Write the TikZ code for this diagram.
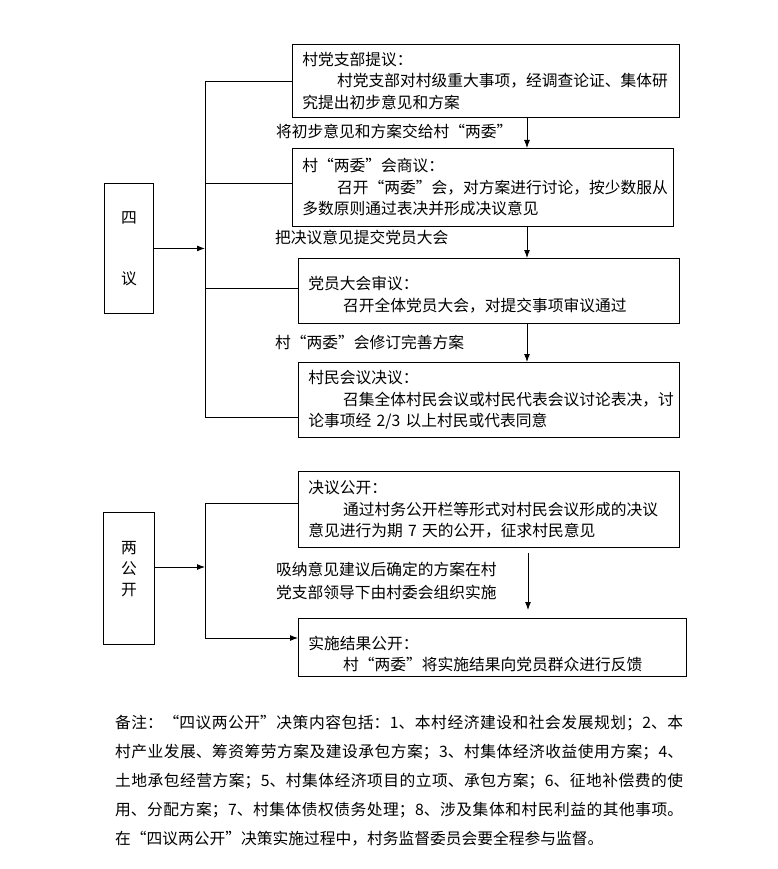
\documentclass[tikz,border=0pt]{standalone}
\usepackage{fontspec}
\setmainfont{Noto Sans CJK SC}
\usetikzlibrary{arrows.meta}

\tikzset{
  stepbox/.style 2 args={draw, line width=0.9pt, anchor=north west, inner xsep=10pt, inner ysep=0pt,
    align=left, text width=#1, minimum height=#2, font=\fontsize{15.75}{21.5}\selectfont},
  sidebox/.style 2 args={draw, line width=0.9pt, anchor=north west, inner sep=0pt,
    align=center, minimum width=#1, minimum height=#2, font=\fontsize{15.75}{21}\selectfont},
  steplabel/.style={anchor=west, inner sep=0pt, align=left, font=\fontsize{15.75}{23}\selectfont},
  wire/.style={line width=0.9pt},
}

\begin{document}
\begin{tikzpicture}[x=1pt, y=-1pt, >={Latex[length=8pt,width=6pt]}]
        \useasboundingbox (0,0) rectangle (777,869);

        % four discussions
        \node[sidebox={49pt}{130pt}] (siyi) at (104,183) {四\\[40pt]议};

        \node[stepbox={367pt}{73pt}] (b1) at (292,44) {村党支部提议：\\\hspace*{2.2em}村党支部对村级重大事项，经调查论证、集体研\\究提出初步意见和方案};
        \node[stepbox={361pt}{78pt}] (b2) at (292,148) {村“两委”会商议：\\\hspace*{2.2em}召开“两委”会，对方案进行讨论，按少数服从\\多数原则通过表决并形成决议意见};
        \node[stepbox={361pt}{65pt}, text depth=16pt] (b3) at (298,258) {党员大会审议：\\\hspace*{2.2em}召开全体党员大会，对提交事项审议通过};
        \node[stepbox={361pt}{75pt}] (b4) at (298,362) {村民会议决议：\\\hspace*{2.2em}召集全体村民会议或村民代表会议讨论表决，讨\\论事项经 2/3 以上村民或代表同意};

        \node[steplabel] (t1) at (276,131) {将初步意见和方案交给村“两委”};
        \node[steplabel] (t2) at (275,237) {把决议意见提交党员大会};
        \node[steplabel] (t3) at (275,342) {村“两委”会修订完善方案};

        \coordinate (ax) at (527,0);
        \draw[wire,->] (b1.south -| ax) -- (b2.north -| ax);
        \draw[wire,->] (b2.south -| ax) -- (b3.north -| ax);
        \draw[wire,->] (b3.south -| ax) -- (b4.north -| ax);

        \coordinate (s1) at (205,81);
        \coordinate (s2) at (205,183);
        \coordinate (s3) at (205,288);
        \coordinate (s4) at (205,417);
        \draw[wire] (s1) -- (s4);
        \draw[wire] (s1) -- (s1 -| b1.west);
        \draw[wire] (s2) -- (s2 -| b2.west);
        \draw[wire] (s3) -- (s3 -| b3.west);
        \draw[wire] (s4) -- (s4 -| b4.west);
        \draw[wire,->] (siyi.east) -- (siyi.east -| s1);

        % two publications
        \node[sidebox={51pt}{132pt}, text depth=20pt] (lgk) at (103,512) {两\\公\\开};

        \node[stepbox={361pt}{76pt}] (b5) at (298,471) {决议公开：\\\hspace*{2.2em}通过村务公开栏等形式对村民会议形成的决议\\意见进行为期 7 天的公开，征求村民意见};
        \node[stepbox={368pt}{58pt}, text depth=10pt] (b6) at (298,618) {实施结果公开：\\\hspace*{2.2em}村“两委”将实施结果向党员群众进行反馈};

        \node[steplabel] (t4) at (276,580.5) {吸纳意见建议后确定的方案在村\\党支部领导下由村委会组织实施};

        \coordinate (l1) at (528,553);
        \coordinate (l2) at (528,610);
        \draw[wire,->] (l1) -- (l2);

        \coordinate (p1) at (205,503);
        \coordinate (p2) at (205,638);
        \coordinate (p3) at (205,567);
        \draw[wire] (p1) -- (p2);
        \draw[wire] (p1) -- (p1 -| b5.west);
        \draw[wire,->] (p2) -- (p2 -| b6.west);
        \draw[wire,->] (lgk.east |- p3) -- (p3);

        % remark
        \node[anchor=north west, inner sep=0pt, text width=568pt, align=justify,
              font=\fontsize{15.75}{29}\selectfont] (remark) at (115,715)
          {\XeTeXlinebreaklocale "zh"\XeTeXlinebreakskip=0pt plus 3pt%
           备注：“四议两公开”决策内容包括：1、本村经济建设和社会发展规划；2、本\linebreak
           村产业发展、筹资筹劳方案及建设承包方案；3、村集体经济收益使用方案；4、\linebreak
           土地承包经营方案；5、村集体经济项目的立项、承包方案；6、征地补偿费的使\linebreak
           用、分配方案；7、村集体债权债务处理；8、涉及集体和村民利益的其他事项。\linebreak
           在“四议两公开”决策实施过程中，村务监督委员会要全程参与监督。};
\end{tikzpicture}
\end{document}
